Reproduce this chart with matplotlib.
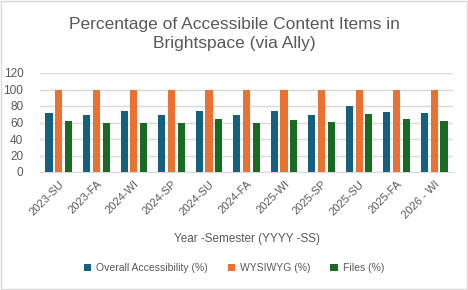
import matplotlib
matplotlib.use("Agg")
import matplotlib.pyplot as plt
import numpy as np
from matplotlib.patches import Rectangle
from matplotlib import font_manager

names = {f.name for f in font_manager.fontManager.ttflist}
FAM = "Liberation Sans Narrow" if "Liberation Sans Narrow" in names else "Liberation Sans"
plt.rcParams['font.family'] = [FAM, 'DejaVu Sans']

categories = ["2023-SU", "2023-FA", "2024-WI", "2024-SP", "2024-SU", "2024-FA",
              "2025-WI", "2025-SP", "2025-SU", "2025-FA", "2026 - WI"]
overall = [72, 68.5, 73.5, 68.5, 74.5, 68.5, 74, 69.5, 80.5, 73, 72]
wysiwyg = [99, 99, 100, 99, 99, 99, 100, 100, 100, 100, 100]
files = [62, 60, 60, 59, 64.5, 60, 63, 61, 70.5, 64.5, 62]
series_names = ["Overall Accessibility (%)", "WYSIWYG (%)", "Files (%)"]
colors = ["#156082", "#E97132", "#196B24"]
yticks = [0, 20, 40, 60, 80, 100, 120]

fig = plt.figure(figsize=(4.68, 2.90), dpi=100)
fig.patches.append(Rectangle((0.003, 0.004), 0.994, 0.992, transform=fig.transFigure,
                             fill=False, edgecolor="#D9D9D9", linewidth=1.0))
ax = fig.add_axes([40/468, 1-172/290, 413/468, 99/290])

x = np.arange(len(categories))
w = 0.19
off = 0.26
for i, (vals, c, n) in enumerate(zip([overall, wysiwyg, files], colors, series_names)):
    ax.bar(x + (i-1)*off, vals, width=w, color=c, label=n, zorder=3)

ax.set_xlim(-0.5, len(categories)-0.5)
ax.set_ylim(0, 120)
ax.set_yticks(yticks)
ax.grid(axis='y', color="#D9D9D9", linewidth=1.0, zorder=0)
for s in ["top", "right", "left"]:
    ax.spines[s].set_visible(False)
ax.spines["bottom"].set_color("#D9D9D9")
ax.tick_params(axis='both', length=0, colors="#595959", labelsize=8)
ax.tick_params(axis='y', pad=12, labelsize=8.5)
ax.set_xticks(x)
ax.set_xticklabels(categories, rotation=45, ha='right', rotation_mode='anchor')
ax.tick_params(axis='x', pad=5)
ax.set_xlabel("Year -Semester (YYYY -SS)", color="#595959", fontsize=8.5, labelpad=9)

fig.text(0.5, 1-34/290, "Percentage of Accessibile Content Items in\nBrightspace (via Ally)",
         ha='center', va='center', fontsize=12.5, color="#595959", linespacing=1.3)

fig.legend(loc='center', bbox_to_anchor=(0.5, 1-268/290), ncol=3, frameon=False,
           fontsize=7.5, labelcolor="#595959", handlelength=0.7, handleheight=0.7,
           columnspacing=1.9, handletextpad=0.5)

fig.savefig("out.png", dpi=100)
